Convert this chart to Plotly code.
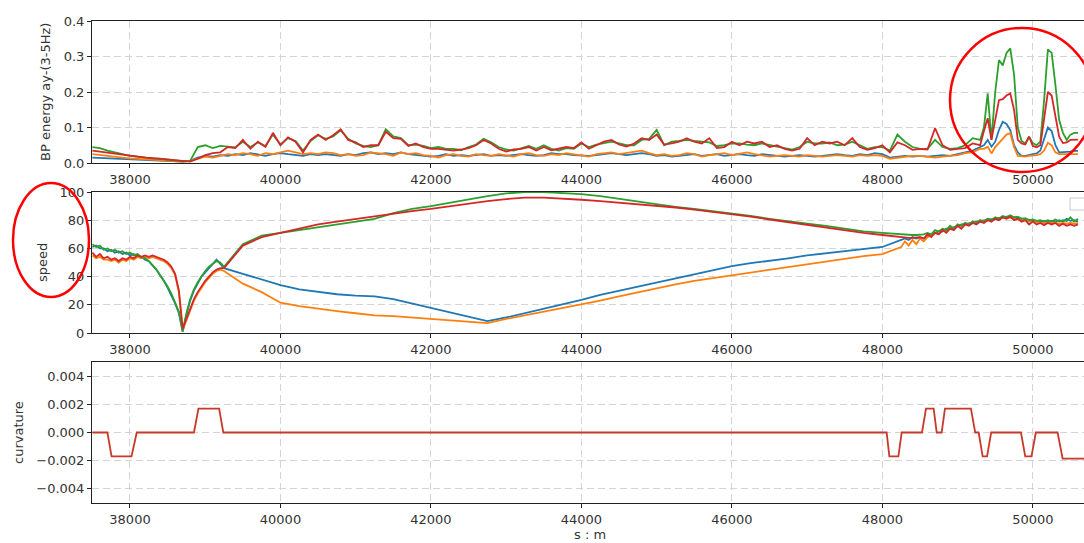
import plotly.graph_objects as go

# ---------------- data ----------------
# top panel: band-pass energy ay (3-5 Hz)
s_bp_coarse = list(range(37500, 49301, 100))
s_bp_fine = list(range(49350, 50601, 50))
s_bp = s_bp_coarse + s_bp_fine

bp_blue_coarse = [
    0.015, 0.014, 0.013, 0.012, 0.011,
    0.01, 0.01, 0.009, 0.008, 0.008, 0.007, 0.006, 0.004, 0.006, 0.015,
    0.02, 0.018, 0.022, 0.02, 0.025, 0.022, 0.028, 0.025, 0.02, 0.025,
    0.028, 0.025, 0.022, 0.02, 0.025, 0.022, 0.025, 0.022, 0.02, 0.025,
    0.022, 0.028, 0.03, 0.025, 0.028, 0.025, 0.03, 0.025, 0.022, 0.02,
    0.018, 0.02, 0.025, 0.02, 0.022, 0.02, 0.022, 0.025, 0.02, 0.022,
    0.02, 0.022, 0.025, 0.022, 0.02, 0.022, 0.028, 0.025, 0.025, 0.022,
    0.02, 0.02, 0.022, 0.025, 0.028, 0.025, 0.022, 0.025, 0.028, 0.025,
    0.02, 0.022, 0.018, 0.02, 0.022, 0.025, 0.02, 0.022, 0.025, 0.02,
    0.022, 0.025, 0.022, 0.02, 0.025, 0.022, 0.02, 0.018, 0.02, 0.022,
    0.02, 0.018, 0.02, 0.022, 0.025, 0.022, 0.02, 0.025, 0.022, 0.028,
    0.025, 0.015, 0.018, 0.02, 0.018, 0.02, 0.018, 0.02, 0.022, 0.02,
    0.025, 0.03, 0.035, 0.045]
bp_blue_fine = [0.05, 0.065, 0.046, 0.06, 0.093, 0.116, 0.11, 0.093, 0.05, 0.03,
                0.02, 0.02, 0.022, 0.025, 0.027, 0.035, 0.065, 0.1, 0.09, 0.05,
                0.03, 0.03, 0.03, 0.032, 0.034, 0.034]

bp_orange_coarse = [
    0.025, 0.022, 0.02, 0.017, 0.015,
    0.013, 0.012, 0.01, 0.01, 0.009, 0.008, 0.007, 0.004, 0.006, 0.012,
    0.018, 0.015, 0.02, 0.025, 0.022, 0.028, 0.025, 0.02, 0.028, 0.025,
    0.03, 0.035, 0.03, 0.025, 0.028, 0.025, 0.03, 0.028, 0.022, 0.025,
    0.02, 0.022, 0.03, 0.028, 0.025, 0.02, 0.03, 0.025, 0.028, 0.022,
    0.02, 0.015, 0.022, 0.025, 0.02, 0.018, 0.025, 0.022, 0.02, 0.025,
    0.022, 0.018, 0.025, 0.028, 0.022, 0.02, 0.025, 0.022, 0.028, 0.025,
    0.02, 0.018, 0.025, 0.028, 0.03, 0.025, 0.028, 0.03, 0.035, 0.028,
    0.022, 0.025, 0.02, 0.022, 0.028, 0.025, 0.018, 0.022, 0.025, 0.028,
    0.022, 0.025, 0.03, 0.025, 0.022, 0.018, 0.02, 0.022, 0.02, 0.018,
    0.022, 0.02, 0.018, 0.02, 0.022, 0.02, 0.018, 0.022, 0.02, 0.022,
    0.02, 0.012, 0.015, 0.018, 0.02, 0.02, 0.018, 0.015, 0.018, 0.02,
    0.022, 0.028, 0.03, 0.04]
bp_orange_fine = [0.04, 0.046, 0.027, 0.045, 0.056, 0.07, 0.08, 0.084, 0.045, 0.02,
                  0.018, 0.018, 0.02, 0.02, 0.022, 0.025, 0.035, 0.057, 0.05, 0.03,
                  0.025, 0.025, 0.025, 0.025, 0.025, 0.025]

bp_green_coarse = [
    0.045, 0.042, 0.035, 0.03, 0.025,
    0.02, 0.018, 0.015, 0.013, 0.012, 0.01, 0.009, 0.005, 0.006, 0.045,
    0.05, 0.042, 0.048, 0.045, 0.044, 0.06, 0.045, 0.058, 0.048, 0.08,
    0.052, 0.07, 0.062, 0.035, 0.062, 0.078, 0.068, 0.075, 0.092, 0.068,
    0.055, 0.048, 0.045, 0.05, 0.095, 0.075, 0.07, 0.05, 0.052, 0.048,
    0.042, 0.045, 0.04, 0.04, 0.036, 0.045, 0.052, 0.068, 0.058, 0.045,
    0.038, 0.035, 0.042, 0.048, 0.04, 0.05, 0.04, 0.035, 0.042, 0.04,
    0.055, 0.045, 0.052, 0.055, 0.06, 0.055, 0.05, 0.05, 0.065, 0.068,
    0.093, 0.05, 0.06, 0.062, 0.065, 0.062, 0.06, 0.058, 0.048, 0.05,
    0.055, 0.055, 0.052, 0.05, 0.055, 0.05, 0.045, 0.042, 0.038, 0.045,
    0.06, 0.055, 0.055, 0.058, 0.05, 0.052, 0.06, 0.05, 0.04, 0.045,
    0.045, 0.035, 0.08, 0.06, 0.045, 0.04, 0.04, 0.065, 0.045, 0.04,
    0.042, 0.05, 0.07, 0.065]
bp_green_fine = [0.1, 0.196, 0.065, 0.2, 0.29, 0.275, 0.31, 0.323, 0.25, 0.1,
                 0.062, 0.055, 0.074, 0.056, 0.05, 0.06, 0.177, 0.32, 0.31, 0.22,
                 0.121, 0.085, 0.065, 0.08, 0.085, 0.085]

bp_red_coarse = [
    0.035, 0.032, 0.03, 0.025, 0.022,
    0.02, 0.018, 0.015, 0.014, 0.012, 0.012, 0.01, 0.006, 0.004, 0.012,
    0.022, 0.028, 0.03, 0.045, 0.042, 0.065, 0.04, 0.06, 0.045, 0.085,
    0.05, 0.072, 0.06, 0.03, 0.065, 0.08, 0.065, 0.078, 0.095, 0.065,
    0.058, 0.045, 0.05, 0.05, 0.088, 0.07, 0.068, 0.048, 0.055, 0.045,
    0.04, 0.04, 0.038, 0.035, 0.038, 0.042, 0.05, 0.065, 0.055, 0.04,
    0.032, 0.038, 0.04, 0.045, 0.035, 0.045, 0.036, 0.04, 0.045, 0.042,
    0.058, 0.04, 0.05, 0.06, 0.065, 0.052, 0.046, 0.055, 0.07, 0.065,
    0.08, 0.052, 0.055, 0.06, 0.07, 0.06, 0.055, 0.07, 0.042, 0.045,
    0.06, 0.05, 0.06, 0.055, 0.06, 0.045, 0.05, 0.04, 0.035, 0.04,
    0.07, 0.05, 0.06, 0.055, 0.06, 0.05, 0.07, 0.045, 0.037, 0.042,
    0.05, 0.03, 0.058, 0.05, 0.037, 0.04, 0.038, 0.098, 0.05, 0.037,
    0.04, 0.042, 0.055, 0.05]
bp_red_fine = [0.09, 0.126, 0.065, 0.12, 0.177, 0.18, 0.19, 0.196, 0.15, 0.065,
               0.055, 0.052, 0.074, 0.048, 0.044, 0.05, 0.13, 0.2, 0.19, 0.13,
               0.074, 0.056, 0.058, 0.065, 0.066, 0.066]

# middle panel: speed
s_speed = list(range(37500, 39251, 50)) + list(range(39500, 48001, 250)) + list(range(48250, 50601, 50))

speed_blue = (
    [61, 62, 60, 60, 58, 59, 57, 58, 56, 57, 55, 56, 54, 54, 52, 51, 48, 45, 41, 37,
     32, 27, 21, 14, 1, 13, 23, 30, 35, 40, 43, 46, 49, 52, 49, 46]
    + [42, 38, 34, 31, 29, 27.5, 26.5, 26, 24, 21, 18, 15, 12, 8.5, 11, 14, 17, 20, 23.5, 27,
       30, 33, 36, 39, 42, 45, 47.5, 49.5, 51, 53, 55, 56.5, 58, 59.5, 61]
    + [66, 67, 66, 68, 67, 68, 67, 69, 70, 71, 72, 72, 74, 74, 75, 76, 77, 77, 78, 78.5,
       79, 79.5, 80, 80.5, 81, 81.5, 82, 82, 82.5, 82.5, 82, 81.5, 81, 80.5, 80, 79.5, 79.5, 79, 79.5, 79,
       79.5, 79, 80, 79, 81, 79.5, 80, 79])
speed_orange = (
    [55, 53, 54, 52, 52, 51, 52, 50, 52, 51, 53, 52, 54, 53, 54, 53, 54, 53, 52, 51,
     49, 46, 41, 29, 2, 9, 17, 23, 28, 32, 36, 39, 42, 44, 45, 44]
    + [35, 29, 21.5, 19, 17, 15.5, 14, 12.5, 12, 11, 10, 9, 8, 7, 10, 12.5, 15, 18, 20.5, 23,
       26, 29, 31.5, 34.5, 37, 39, 41, 43, 45, 47, 49, 51, 52.5, 54.5, 56]
    + [61, 65, 62, 66, 63, 67, 65, 68, 69, 71, 70, 73, 72, 75, 74, 76, 76, 78, 77, 79,
       78, 80, 79, 81, 80, 81.5, 81, 82, 81.5, 82, 81, 81, 80, 80, 79, 79, 78.5, 78.5, 78, 78.5,
       78, 78.5, 77.5, 78, 77.5, 78, 77.5, 78])
speed_green = (
    [63, 61, 62, 59, 60, 58, 59, 57, 58, 56, 57, 55, 56, 54, 53, 51, 48, 45, 41, 37,
     33, 28, 22, 15, 1, 14, 24, 31, 36, 40, 44, 47, 49, 51, 50, 47]
    + [63, 69, 71, 73, 75, 77, 78.5, 81, 85, 88, 90, 92.5, 95, 97, 99, 100, 100, 99.5, 98.5, 97,
       95, 93, 91, 89.5, 88, 86.5, 85, 83, 81, 79, 77.5, 76, 74, 72, 71]
    + [70, 69.5, 69.5, 69.5, 69.5, 69.5, 70, 71, 70, 73, 72, 74, 73, 76, 74, 77, 76, 78, 77, 79,
       78, 80, 79, 81, 80, 82, 81, 83, 82, 83.5, 82, 82.5, 81, 81.5, 80, 80.5, 79.5, 80, 79, 80,
       79, 80.5, 79, 80, 79.5, 82, 79, 81])
speed_red = (
    [57, 54, 56, 53, 54, 52, 53, 51, 53, 52, 54, 53, 55, 54, 55, 54, 55, 54, 53, 52,
     50, 47, 42, 30, 3, 10, 18, 24, 29, 33, 37, 40, 43, 45, 46, 46]
    + [62, 68, 71, 74, 77, 79, 81, 82.5, 84.5, 86.5, 88, 90, 92, 93.5, 95, 96, 96, 95.5, 94.5, 93.5,
       92.5, 91.5, 90.5, 89, 87.5, 86, 84.5, 82.5, 80.5, 78.5, 77, 75, 73, 71, 69.5]
    + [68, 67.5, 67.5, 67.5, 68, 68, 67, 70, 68, 71, 70, 73, 71, 74, 73, 76, 74, 77, 76, 78,
       77, 79, 78, 80, 79, 81, 80, 82, 81, 82.5, 80, 81, 79, 80, 77, 79, 77, 78, 76.5, 78,
       77, 78, 76, 77.5, 76, 77, 76, 77])

# bottom panel: curvature
s_curv = [37500, 37700, 37755, 38020, 38090, 38850, 38910, 39185, 39240,
          48057, 48093, 48213, 48257, 48527, 48580, 48682, 48722, 48788, 48832,
          49177, 49234, 49280, 49333, 49392, 49446, 49842, 49899, 49982, 50040,
          50329, 50396, 50700]
curv = [0, 0, -0.0017, -0.0017, 0, 0, 0.0017, 0.0017, 0,
        0, -0.0017, -0.0017, 0, 0, 0.0017, 0.0017, 0, 0, 0.0017,
        0.0017, 0, 0, -0.0017, -0.0017, 0, 0, -0.0017, -0.0017, 0,
        0, -0.00185, -0.00185]

x_ticks = [38000, 40000, 42000, 44000, 46000, 48000, 50000]
x_labels = ["38000", "40000", "42000", "44000", "46000", "48000", "50000"]
bp_ticks = [0.0, 0.1, 0.2, 0.3, 0.4]
bp_labels = ["0.0", "0.1", "0.2", "0.3", "0.4"]
speed_ticks = [0, 20, 40, 60, 80, 100]
speed_labels = ["0", "20", "40", "60", "80", "100"]
curv_ticks = [-0.004, -0.002, 0.0, 0.002, 0.004]
curv_labels = ["\u22120.004", "\u22120.002", "0.000", "0.002", "0.004"]

colors = ["#1f77b4", "#ff7f0e", "#2ca02c", "#d62728"]

# ---------------- figure ----------------
W, H = 1084, 543


def fx(px):
    return px / W


def fy(py):
    return 1 - py / H


fig = go.Figure()

bp_series = [bp_blue_coarse + bp_blue_fine, bp_orange_coarse + bp_orange_fine,
             bp_green_coarse + bp_green_fine, bp_red_coarse + bp_red_fine]
for vals, c in zip(bp_series, colors):
    fig.add_trace(go.Scatter(x=s_bp, y=vals, mode="lines", line=dict(color=c, width=1.8),
                             xaxis="x", yaxis="y", showlegend=False))

for vals, c in zip([speed_blue, speed_orange, speed_green, speed_red], colors):
    fig.add_trace(go.Scatter(x=s_speed, y=vals, mode="lines", line=dict(color=c, width=1.8),
                             xaxis="x2", yaxis="y2", showlegend=False))

fig.add_trace(go.Scatter(x=s_curv, y=curv, mode="lines", line=dict(color="#c8392b", width=1.8),
                         xaxis="x3", yaxis="y3", showlegend=False))

font = dict(family="DejaVu Sans", size=13, color="#333333")
grid = dict(showgrid=True, gridcolor="#d4d4d4", griddash="7px,4px", gridwidth=1)
xcommon = dict(domain=[fx(92), 1.0], range=[37495, 50680], tickmode="array", tickvals=x_ticks,
               ticktext=x_labels,
               ticks="outside", ticklen=4, tickcolor="#222", showline=True, mirror=True,
               linecolor="#222", linewidth=1, zeroline=False, tickfont=font,
               automargin=False, **grid)
ycommon = dict(ticks="outside", ticklen=4, tickcolor="#222", showline=True, mirror=False,
               linecolor="#222", linewidth=1, zeroline=False, tickfont=font,
               automargin=False, tickmode="array", **grid)

fig.update_layout(
    width=W, height=H,
    margin=dict(l=0, r=0, t=0, b=0),
    paper_bgcolor="white", plot_bgcolor="white",
    font=font,
    showlegend=False,
    xaxis=dict(anchor="y", **xcommon),
    xaxis2=dict(anchor="y2", **xcommon),
    xaxis3=dict(anchor="y3", **xcommon),
    yaxis=dict(anchor="x", domain=[fy(163), fy(21)], range=[0, 0.4],
               tickvals=bp_ticks, ticktext=bp_labels, **ycommon),
    yaxis2=dict(anchor="x2", domain=[fy(333), fy(192)], range=[0, 100],
                tickvals=speed_ticks, ticktext=speed_labels, **ycommon),
    yaxis3=dict(anchor="x3", domain=[fy(503), fy(362)], range=[-0.005, 0.005],
                tickvals=curv_ticks, ticktext=curv_labels, **ycommon),
)

annotations = [
    dict(text="BP energy ay-(3-5Hz)", x=fx(45), y=fy(92), textangle=-90),
    dict(text="speed", x=fx(42), y=fy(263), textangle=-90),
    dict(text="curvature", x=fx(18), y=fy(433), textangle=-90),
]
for a in annotations:
    fig.add_annotation(xref="paper", yref="paper", showarrow=False, font=font,
                       xanchor="center", yanchor="middle", **a)
fig.add_annotation(text="s : m", xref="paper", yref="paper", x=fx(590), y=fy(525),
                   xanchor="center", yanchor="top", showarrow=False, font=font)

# empty legend frame in the speed panel
fig.add_shape(type="rect", xref="paper", yref="paper", x0=fx(1070), x1=fx(1092),
              y0=fy(210), y1=fy(198), line=dict(color="#cccccc", width=1), fillcolor="white")

# red highlight ellipses
fig.add_shape(type="circle", xref="paper", yref="paper", x0=fx(950), x1=fx(1094),
              y0=fy(172), y1=fy(28), line=dict(color="#ff0000", width=2.5))
fig.add_shape(type="circle", xref="paper", yref="paper", x0=fx(13), x1=fx(89),
              y0=fy(297), y1=fy(183), line=dict(color="#ff0000", width=2.5))

fig.write_html("out.html", config={"displayModeBar": False},
               post_script="document.body.style.margin='0px';document.body.style.overflow='hidden';")
